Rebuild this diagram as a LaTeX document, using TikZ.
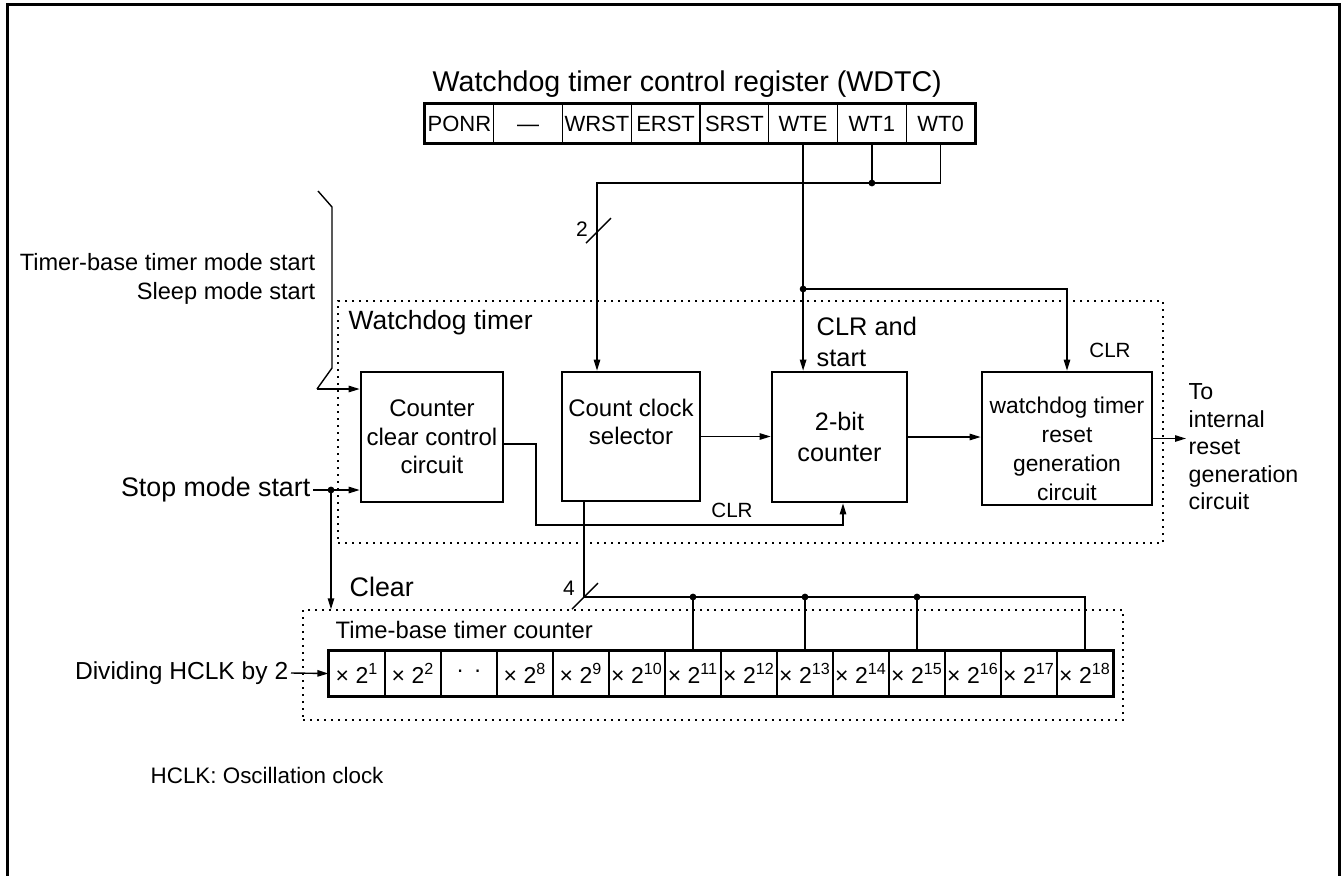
\documentclass[tikz,border=0pt]{standalone}
\usepackage{fontspec}
\setmainfont{Liberation Sans}
\usetikzlibrary{arrows.meta}

\begin{document}
\begin{tikzpicture}[x=0.5pt, y=-0.5pt, line width=0.7pt, >={Triangle[length=5.5pt,width=3.2pt]}]
	\tikzstyle{block}=[rectangle, draw=black, line width=1.3pt, inner sep=0pt]
	\tikzstyle{reg}=[rectangle, draw=black, line width=0.6pt, minimum width=34.375pt, minimum height=19.5pt, inner sep=0pt, text height=8pt, text depth=0pt, font=\fontsize{11}{12}\selectfont]
	\tikzstyle{cell}=[rectangle, draw=black, line width=0.6pt, minimum width=28pt, minimum height=22.5pt, inner sep=0pt, font=\fontsize{11.5}{12}\selectfont]
	\tikzstyle{frame}=[rectangle, draw=black, line width=0.7pt, dash pattern=on 1pt off 2.5pt, inner sep=0pt]
	\tikzstyle{lbl}=[inner sep=1pt, align=center]
	\tikzstyle{dot}=[circle, fill=black, inner sep=0pt, minimum size=3.4pt]
	\useasboundingbox (0,0) rectangle (1341,875);
	\draw[line width=1.5pt] (7,890) -- (7,4) -- (1339,4) -- (1339,890);

	% control register
	\draw node[lbl, anchor=west, font=\fontsize{14.3}{17}\selectfont] at (430, 84) (wdtc) {Watchdog timer control register (WDTC)};
	\draw node[reg] at (459.4, 123.5) (reg1) {PONR};
	\draw node[reg] at (528.1, 123.5) (reg2) {---};
	\draw node[reg] at (596.9, 123.5) (reg3) {WRST};
	\draw node[reg] at (665.6, 123.5) (reg4) {ERST};
	\draw node[reg] at (734.4, 123.5) (reg5) {SRST};
	\draw node[reg] at (803.1, 123.5) (reg6) {WTE};
	\draw node[reg] at (871.9, 123.5) (reg7) {WT1};
	\draw node[reg] at (940.6, 123.5) (reg8) {WT0};
	\draw[line width=1.3pt] (reg1.north west) rectangle (reg8.south east);

	% watchdog timer
	\draw node[frame, minimum width=412.5pt, minimum height=121pt] at (750.5, 422) (wdt) {};
	\draw node[lbl, anchor=west, font=\fontsize{13.2}{16}\selectfont] at (346, 323) (wdtlbl) {Watchdog timer};
	\draw node[block, minimum width=71pt, minimum height=65pt, align=center, font=\fontsize{12}{14.3}\selectfont] at (432, 437) (ccc) {Counter\\clear control\\circuit};
	\draw node[block, minimum width=69pt, minimum height=64.5pt] at (631, 436.5) (ccs) {};
	\draw node[lbl, font=\fontsize{12}{14.3}\selectfont] at (631, 422) (ccslbl) {Count clock\\selector};
	\draw node[block, minimum width=67.5pt, minimum height=65pt, align=center, font=\fontsize{12.6}{15.5}\selectfont] at (839.5, 437) (cnt) {2-bit\\counter};
	\draw node[block, minimum width=85pt, minimum height=66.5pt] at (1067, 438.5) (rst) {};
	\draw node[lbl, font=\fontsize{11.4}{14.5}\selectfont] at (1067, 449) (rstlbl) {watchdog timer\\reset\\generation\\circuit};
	\draw node[lbl, anchor=west, align=left, font=\fontsize{12.7}{15.5}\selectfont] at (814, 342) (clrstart) {CLR and\\start};
	\draw node[lbl, font=\fontsize{10.3}{12}\selectfont] at (1110, 350) (clr1) {CLR};
	\draw node[lbl, font=\fontsize{10.3}{12}\selectfont] at (732, 510) (clr2) {CLR};
	\draw node[lbl, anchor=west, align=left, font=\fontsize{11.6}{13.75}\selectfont] at (1186, 447) (out) {To\\internal\\reset\\generation\\circuit};

	% inputs
	\draw node[lbl, anchor=east, align=right, font=\fontsize{11.8}{14.5}\selectfont] at (318, 279) (tbs) {Timer-base timer mode start\\Sleep mode start};
	\draw node[lbl, anchor=east, font=\fontsize{13.4}{16}\selectfont] at (313, 490) (stop) {Stop mode start};
	\draw node[lbl, anchor=west, font=\fontsize{13.4}{16}\selectfont] at (347, 587) (clear) {Clear};

	% time-base timer counter
	\draw node[frame, minimum width=410pt, minimum height=55pt] at (713, 665) (tbc) {};
	\draw node[lbl, anchor=west, font=\fontsize{11.9}{14}\selectfont] at (333, 630) (tbclbl) {Time-base timer counter};
	\draw node[cell] at (357, 673.5) (c1) {× 2\textsuperscript{1}};
	\draw node[cell] at (413, 673.5) (c2) {× 2\textsuperscript{2}};
	\draw node[cell] at (469, 673.5) (c3) {·\hspace{5pt}·};
	\draw node[cell] at (525, 673.5) (c4) {× 2\textsuperscript{8}};
	\draw node[cell] at (581, 673.5) (c5) {× 2\textsuperscript{9}};
	\draw node[cell] at (637, 673.5) (c6) {× 2\textsuperscript{10}};
	\draw node[cell] at (693, 673.5) (c7) {× 2\textsuperscript{11}};
	\draw node[cell] at (749, 673.5) (c8) {× 2\textsuperscript{12}};
	\draw node[cell] at (805, 673.5) (c9) {× 2\textsuperscript{13}};
	\draw node[cell] at (861, 673.5) (c10) {× 2\textsuperscript{14}};
	\draw node[cell] at (917, 673.5) (c11) {× 2\textsuperscript{15}};
	\draw node[cell] at (973, 673.5) (c12) {× 2\textsuperscript{16}};
	\draw node[cell] at (1029, 673.5) (c13) {× 2\textsuperscript{17}};
	\draw node[cell] at (1085, 673.5) (c14) {× 2\textsuperscript{18}};
	\draw[line width=1.3pt] (c1.north west) rectangle (c14.south east);
	\draw node[lbl, anchor=east, font=\fontsize{12.3}{14}\selectfont] at (291, 673) (div) {Dividing HCLK by 2};
	\draw node[lbl, anchor=west, font=\fontsize{11.2}{14}\selectfont] at (148, 775) (hclk) {HCLK: Oscillation clock};

	% junctions
	\coordinate (jwt) at (871.9, 183);
	\coordinate (jwte) at (803.1, 289);
	\coordinate (jstop) at (331, 490);
	\coordinate (jcnt) at (584, 597);
	\coordinate (tb) at (317, 389);
	\coordinate (clrc) at (536, 525);

	% register bits
	\draw (reg8.south) |- (jwt);
	\draw (reg7.south) -- (jwt);
	\draw [->] (jwt) -| ([xshift=-17pt]ccs.north);
	\draw (586, 243) -- (611, 218);
	\draw node[lbl, font=\fontsize{10.5}{12}\selectfont] at (582, 229) (bus2) {2};
	\draw [->] (reg6.south) -- (reg6.south |- cnt.north);
	\draw [->] (jwte) -| (rst.north);

	% inputs
	\draw (318, 191) -- (332, 207) -- (332, 368) -- (tb);
	\draw [->] (tb) -- (tb -| ccc.west);
	\draw [->] (stop.east) -- (stop.east -| ccc.west);
	\draw [->] (jstop) -- (jstop |- tbc.north);

	% signal flow
	\draw [->] ([yshift=-3.5pt]ccc.east) -| (clrc) -| ([xshift=1.75pt]cnt.south);
	\draw [->] (ccs.east) -- (ccs.east -| cnt.west);
	\draw [->] (cnt.east) -- (cnt.east -| rst.west);
	\draw [->] (rst.east) -- (rst.east -| out.west);

	% count clock taps
	\draw ([xshift=-23.5pt]ccs.south) -- (jcnt) -- (jcnt -| c14.north) -- (c14.north);
	\draw (572, 609) -- (598, 583);
	\draw node[lbl, font=\fontsize{10.5}{12}\selectfont] at (569, 588) (bus4) {4};
	\draw (jcnt -| c7.north) -- (c7.north);
	\draw (jcnt -| c9.north) -- (c9.north);
	\draw (jcnt -| c11.north) -- (c11.north);
	\draw [->] (div.east) -- (c1.west);

	\draw node[dot] at (jwt) (d1) {};
	\draw node[dot] at (jwte) (d2) {};
	\draw node[dot] at (jstop) (d3) {};
	\draw node[dot] at (jcnt -| c7.north) (d4) {};
	\draw node[dot] at (jcnt -| c9.north) (d5) {};
	\draw node[dot] at (jcnt -| c11.north) (d6) {};
\end{tikzpicture}
\end{document}
